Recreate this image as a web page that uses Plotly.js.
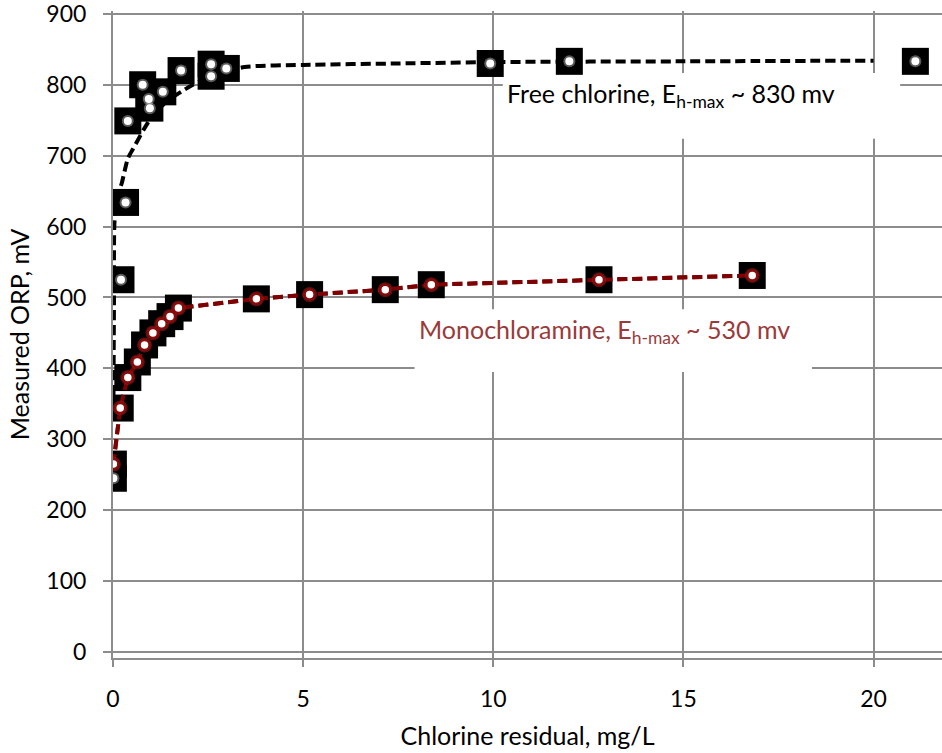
<!DOCTYPE html>
<html>
<head>
<meta charset="utf-8">
<script src="https://cdn.plot.ly/plotly-3.0.1.min.js"></script>
<style>html,body{margin:0;padding:0;background:#fff;}#chart{width:942px;height:753px;}</style>
</head>
<body>
<div id="chart"></div>
<script>
// Free chlorine measurements
const freeX = [0.01, 0.21, 0.33, 0.39, 0.78, 0.94, 0.97, 1.31, 1.79, 2.58, 2.58, 2.98, 9.92, 12.0, 21.1];
const freeY = [245, 525, 634, 749, 800, 780, 767, 790, 820, 829, 812, 823, 830, 833, 833];
// Free chlorine trendline
const freeTrendX = [0.013, 0.026, 0.04, 0.145, 0.23, 0.30, 0.39, 0.51, 0.96, 1.4, 1.88, 2.5, 3.46, 5, 7.5, 10, 15, 20];
const freeTrendY = [362, 496, 607, 647, 661, 677, 696, 708, 750, 776, 793, 811, 825, 828, 830, 832, 833, 834];
// Monochloramine measurements
const monoX = [0.01, 0.19, 0.39, 0.64, 0.83, 1.05, 1.28, 1.5, 1.72, 3.77, 5.17, 7.16, 8.37, 12.78, 16.81];
const monoY = [265, 344, 387, 409, 433, 450, 463, 473, 485, 498, 504, 511, 518, 525, 531];
// Axis ticks
const xTicks = [0, 5, 10, 15, 20];
const yTicks = [0, 100, 200, 300, 400, 500, 600, 700, 800, 900];

const FONT = 'Lato, "Open Sans", sans-serif';
const GRID = '#8c8c8c';

const traces = [
  {x: freeTrendX, y: freeTrendY, mode: 'lines', line: {color: '#000', width: 4, dash: '10px,5px', shape: 'spline', smoothing: 0.6}, hoverinfo: 'skip'},
  {x: monoX, y: monoY, mode: 'lines', line: {color: '#7f0000', width: 4, dash: '10px,5px'}, hoverinfo: 'skip'},
  {x: freeX, y: freeY, mode: 'markers', marker: {symbol: 'square', size: 27, color: '#000'}},
  {x: monoX, y: monoY, mode: 'markers', marker: {symbol: 'square', size: 27, color: '#000'}},
  {x: monoX, y: monoY, mode: 'lines', line: {color: '#7f0000', width: 4, dash: '10px,5px'}, hoverinfo: 'skip'},
  {x: freeX, y: freeY, mode: 'markers', marker: {symbol: 'circle', size: 12, color: 'rgba(255,255,255,0.35)', line: {width: 0}}},
  {x: freeX, y: freeY, mode: 'markers', marker: {symbol: 'circle', size: 8, color: '#fff', line: {width: 0}}},
  {x: monoX, y: monoY, mode: 'markers', marker: {symbol: 'circle', size: 15, color: 'rgba(160,30,30,0.55)', line: {width: 0}}},
  {x: monoX, y: monoY, mode: 'markers', marker: {symbol: 'circle', size: 10, color: '#fff', line: {color: '#8b0a0a', width: 2.5}}}
];

const layout = {
  width: 942, height: 753,
  margin: {l: 113, r: 0, t: 11, b: 95},
  paper_bgcolor: '#fff', plot_bgcolor: '#fff',
  showlegend: false,
  font: {family: FONT, size: 23, color: '#000'},
  xaxis: {
    range: [0, 21.8], tickvals: xTicks, ticktext: xTicks.map(String),
    showgrid: true, gridcolor: GRID, gridwidth: 2, zeroline: false,
    showline: true, linecolor: GRID, linewidth: 2,
    ticks: 'outside', ticklen: 7, tickwidth: 2, tickcolor: GRID,
    ticklabelstandoff: 12, ticklabeloverflow: 'allow',
    tickfont: {family: FONT, size: 23, color: '#000'},
    title: {text: 'Chlorine residual, mg/L', font: {family: FONT, size: 25, color: '#000'}, standoff: 17}
  },
  yaxis: {
    range: [-8.5, 904], tickvals: yTicks, ticktext: yTicks.map(String),
    showgrid: true, gridcolor: GRID, gridwidth: 2, zeroline: false,
    showline: true, linecolor: GRID, linewidth: 2,
    ticks: 'outside', ticklen: 8, tickwidth: 2, tickcolor: GRID,
    ticklabelstandoff: 12, ticklabeloverflow: 'allow',
    tickfont: {family: FONT, size: 23, color: '#000'},
    title: {text: 'Measured ORP, mV', font: {family: FONT, size: 25, color: '#000'}, standoff: 10}
  },
  shapes: [
    {type: 'rect', layer: 'between', xref: 'x', yref: 'y', x0: 10.25, x1: 20.7, y0: 724, y1: 816.5, fillcolor: '#fff', line: {width: 0}},
    {type: 'rect', layer: 'between', xref: 'x', yref: 'y', x0: 7.93, x1: 18.38, y0: 395, y1: 483.5, fillcolor: '#fff', line: {width: 0}}
  ],
  annotations: [
    {xref: 'x', yref: 'y', x: 10.3, y: 786, xanchor: 'left', yanchor: 'middle', showarrow: false,
     text: 'Free chlorine, E<sub>h-max</sub> ~ 830 mv', font: {family: FONT, size: 25, color: '#000'}},
    {xref: 'x', yref: 'y', x: 8.0, y: 452, xanchor: 'left', yanchor: 'middle', showarrow: false,
     text: 'Monochloramine, E<sub>h-max</sub> ~ 530 mv', font: {family: FONT, size: 25, color: '#9b3a3a'}}
  ]
};

Plotly.newPlot('chart', traces, layout, {staticPlot: true, displayModeBar: false});
</script>
</body>
</html>
